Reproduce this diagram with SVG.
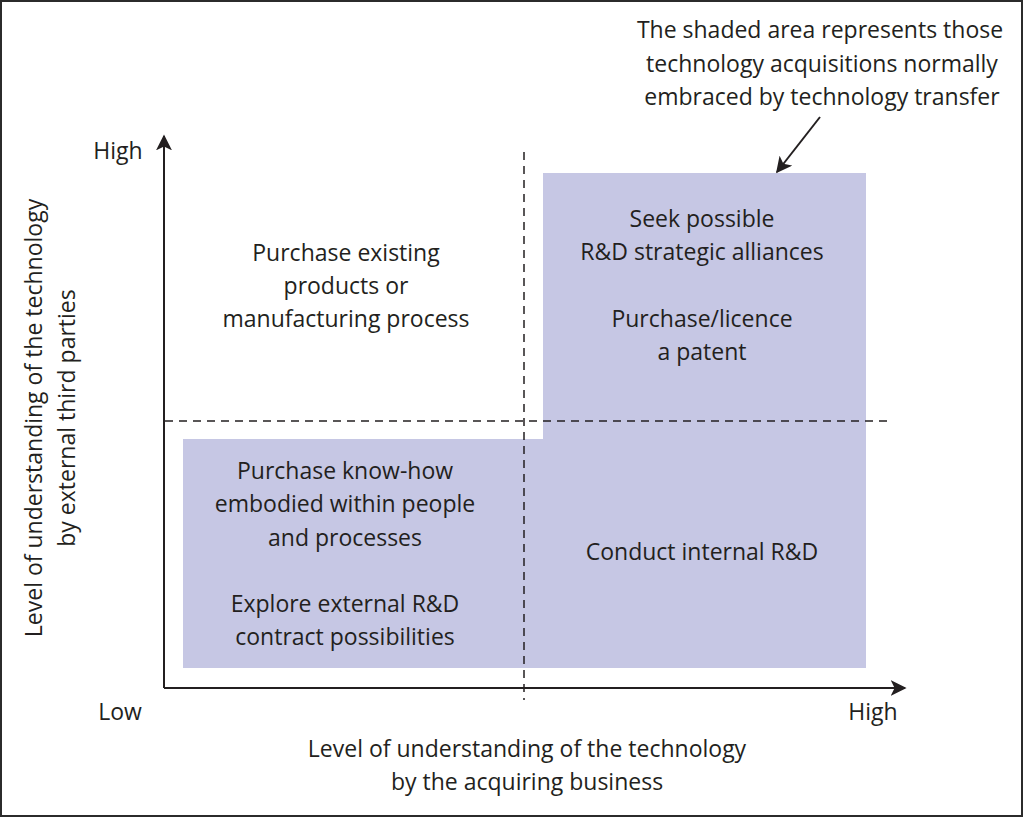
<svg xmlns="http://www.w3.org/2000/svg" width="1024" height="818" viewBox="0 0 1024 818">
<defs>
<style>
text{font-family:"Open Sans","Noto Sans","Liberation Sans",sans-serif;font-size:23px;fill:#231f20;text-anchor:middle}
.dash{stroke:#231f20;stroke-width:1.5;stroke-dasharray:8,6;fill:none}
.axis{stroke:#231f20;stroke-width:2;fill:none}
</style>
<marker id="ah" viewBox="0 0 10 10" refX="9" refY="5" markerWidth="10" markerHeight="10" markerUnits="userSpaceOnUse" orient="auto">
<path d="M0,0 L10,5 L0,10 L2.5,5 Z" fill="#231f20"/>
</marker>
<marker id="ah2" viewBox="0 0 10 10" refX="9" refY="5" markerWidth="16" markerHeight="16" markerUnits="userSpaceOnUse" orient="auto">
<path d="M0,0 L10,5 L0,10 L2.5,5 Z" fill="#231f20"/>
</marker>
</defs>
<rect x="1" y="1" width="1021" height="815" fill="#fff" stroke="#2b2b2b" stroke-width="2"/>
<g id="shaded">
<path d="M543,173 H866 V668 H183 V439 H543 Z" fill="#c6c7e4"/>
</g>
<g id="connectors">
<line class="dash" x1="524" y1="152" x2="524" y2="700"/>
<line class="dash" x1="165" y1="421" x2="887" y2="421"/>
<line class="axis" x1="164" y1="688" x2="164" y2="136" marker-end="url(#ah2)"/>
<line class="axis" x1="164" y1="688" x2="905" y2="688" marker-end="url(#ah2)"/>
<line x1="820" y1="117" x2="777" y2="172" stroke="#231f20" stroke-width="2" marker-end="url(#ah2)"/>
</g>
<g id="annotation">
<text x="820" y="38">The shaded area represents those</text>
<text x="822" y="72">technology acquisitions normally</text>
<text x="822" y="105">embraced by technology transfer</text>
</g>
<g id="axis-labels">
<text x="118" y="159">High</text>
<text x="120" y="720">Low</text>
<text x="873" y="720">High</text>
<text x="527" y="757">Level of understanding of the technology</text>
<text x="527" y="790">by the acquiring business</text>
<text transform="translate(42,418) rotate(-90)">Level of understanding of the technology</text>
<text transform="translate(75,418) rotate(-90)">by external third parties</text>
</g>
<g id="q-top-left">
<text x="346" y="261">Purchase existing</text>
<text x="346" y="294">products or</text>
<text x="346" y="327">manufacturing process</text>
</g>
<g id="q-top-right">
<text x="702" y="227">Seek possible</text>
<text x="702" y="260">R&amp;D strategic alliances</text>
<text x="702" y="327">Purchase/licence</text>
<text x="702" y="360">a patent</text>
</g>
<g id="q-bottom-left">
<text x="345" y="479">Purchase know-how</text>
<text x="345" y="512">embodied within people</text>
<text x="345" y="546">and processes</text>
<text x="345" y="612">Explore external R&amp;D</text>
<text x="345" y="645">contract possibilities</text>
</g>
<g id="q-bottom-right">
<text x="702" y="560">Conduct internal R&amp;D</text>
</g>
</svg>
